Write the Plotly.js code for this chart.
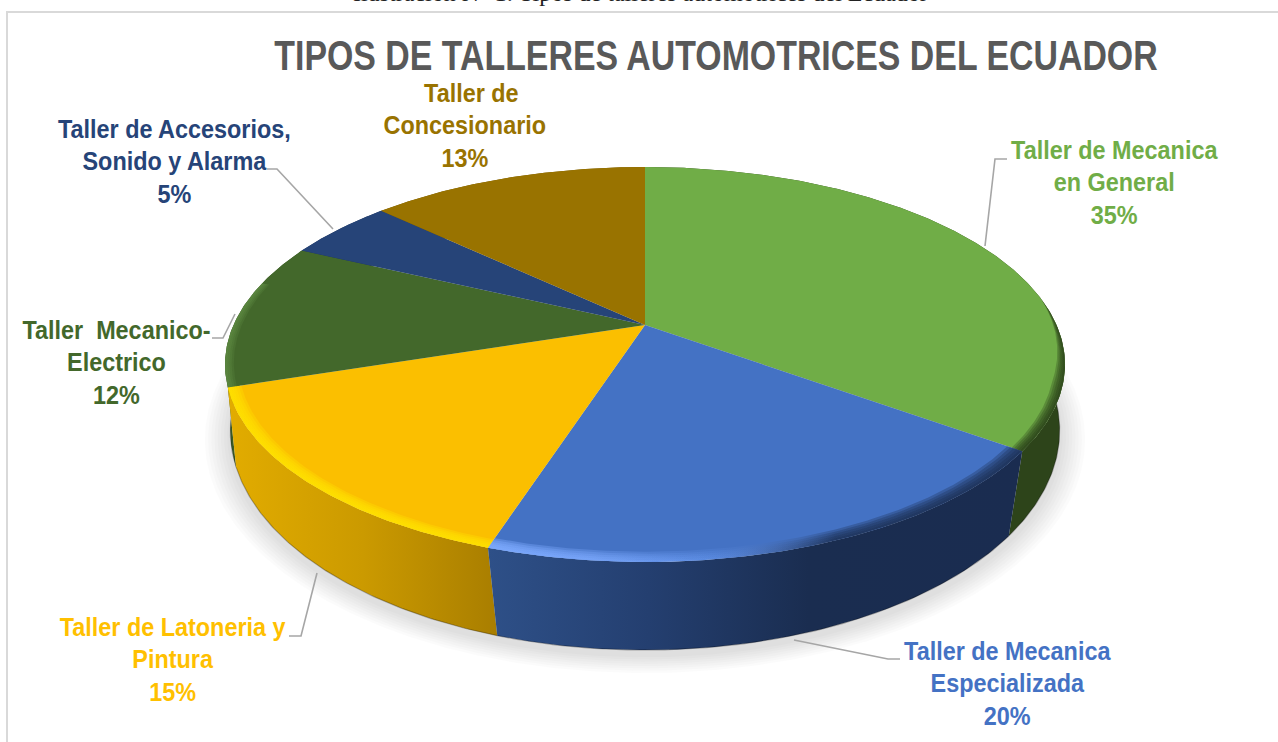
<!DOCTYPE html>
<html><head><meta charset="utf-8">
<script src="https://cdn.plot.ly/plotly-3.0.1.min.js"></script>
<style>html,body{margin:0;padding:0;background:#fff;overflow:hidden}#c{width:1278px;height:742px}</style>
</head><body><div id="c"></div>
<script>
// ---- data ----
const categories = ['Taller de Mecanica en General','Taller de Mecanica Especializada','Taller de Latoneria y Pintura','Taller Mecanico-Electrico','Taller de Accesorios, Sonido y Alarma','Taller de Concesionario'];
const values = [35,20,15,12,5,13];
const labelLines = [
  'Taller de Mecanica<br>en General<br>35%',
  'Taller de Mecanica<br>Especializada<br>20%',
  'Taller de Latoneria y<br>Pintura<br>15%',
  'Taller  Mecanico-<br>Electrico<br>12%',
  'Taller de Accesorios,<br>Sonido y Alarma<br>5%',
  '&nbsp;&nbsp;Taller de<br>Concesionario<br>13%'
];
const faceColors = ['#70AD47','#4472C4','#FBBF00','#43682B','#264478','#997300'];
const labelColors = ['#70AD47','#4472C4','#FFC000','#43682B','#264478','#997300'];
const wallScales = [
  [[0,'#2D441A'],[1,'#2D441A']],
  [[0,'#2E5088'],[0.3,'#243F70'],[0.6,'#1A2D50'],[1,'#1A2C50']],
  [[0,'#E2AC00'],[0.5,'#CB9A00'],[1,'#A97E00']],
  [[0,'#3A5A26'],[1,'#3A5A26']],
  [[0,'#1C3359'],[1,'#1C3359']],
  [[0,'#735600'],[1,'#735600']]
];
const labelAnchors = [[1115,182],[1008,683],[172,659],[116,362],[174,161],[465,125]];
const leaders = [
  [[985,246],[995,159],[1007,159]],
  [[794,640],[888,659],[900,659]],
  [[317,573],[301,636],[289,636]],
  [[235,314],[223,338],[212,338]],
  [[333,229],[277,169],[267,169]],
];
const titleText = 'TIPOS DE TALLERES AUTOMOTRICES DEL ECUADOR';
const captionText = 'Ilustración N° 1: Tipos de talleres automotrices del Ecuador';

// ---- projection of the tilted disc ----
const CX=645, CY=325, AX=411.5, BY=189.6, K=0.2;
const CY2=397.6, AX2=410, BY2=214.6, K2=0.15;
function rimTop(r,deg){ const a=deg*Math.PI/180, u=r*Math.sin(a), v=-r*Math.cos(a), w=1-K*v; return [CX+AX*u/w, CY+BY*v/w]; }
function rimBottom(r,deg){ const a=deg*Math.PI/180, u=r*Math.sin(a), v=-r*Math.cos(a), w=1-K2*v; return [CX+AX2*u/w, CY2+BY2*v/w]; }
function sweep(a,b){ const out=[], n=Math.max(2,Math.ceil(Math.abs(b-a)/0.5)); for(let i=0;i<=n;i++) out.push(a+(b-a)*i/n); return out; }
function poly(pts,extra){ pts=pts.concat([pts[0]]);
  return Object.assign({type:'scatter',mode:'lines',x:pts.map(p=>p[0]),y:pts.map(p=>p[1]),fill:'toself',line:{width:0},hoverinfo:'skip',showlegend:false},extra); }
// soft bevel: stacked translucent strips from an inner radius out to the rim, tapering in from the start angle
function softBand(a,b,inner,layers,taper,scale){
  for(let i=0;i<layers;i++){
    const depth=(1-inner)*(layers-i)/layers;
    const width=t=>depth*Math.min(1,taper?(t-a)/taper:1);
    const pts=sweep(a,b).map(t=>rimTop(1,t)).concat(sweep(b,a).map(t=>rimTop(1-width(t),t)));
    traces.push(poly(pts,{fillcolor:'rgba(0,0,0,0)',fillgradient:{type:'horizontal',colorscale:scale}}));
  }
}

// slice boundaries from the values
const total=values.reduce((s,v)=>s+v,0); const starts=[]; let run=0;
values.forEach(v=>{starts.push(run/total*360); run+=v;});
const ends=values.map((v,i)=>starts[i]+v/total*360);

const traces=[];
// soft shadow beneath the disc
for(let i=8;i>=1;i--){
  const grow=1+i*0.0075;
  const pts=sweep(0,360).map(t=>{const p=rimBottom(grow,t);return [p[0],p[1]+5];});
  traces.push(poly(pts,{fillcolor:'rgba(0,0,0,0.017)'}));
}
// side walls, back to front
[5,4,3,0,2,1].forEach(i=>{
  const pts=sweep(starts[i],ends[i]).map(t=>rimTop(1,t)).concat(sweep(ends[i],starts[i]).map(t=>rimBottom(1,t)));
  traces.push(poly(pts,{fillgradient:{type:'horizontal',colorscale:wallScales[i]},fillcolor:'rgba(0,0,0,0)'}));
  const edge=sweep(starts[i],ends[i]).map(t=>rimBottom(1,t));
  traces.push({type:'scatter',mode:'lines',x:edge.map(p=>p[0]),y:edge.map(p=>p[1]),line:{width:1.2,color:'rgba(0,0,0,0.28)'},hoverinfo:'skip',showlegend:false});
});
// top faces
values.forEach((v,i)=>{
  const pts=[[CX,CY]].concat(sweep(starts[i],ends[i]).map(t=>rimTop(1,t)));
  traces.push(poly(pts,{fillcolor:faceColors[i],name:categories[i],text:v+'%',hoverinfo:'name+text'}));
});
// bevel along the near rim
softBand(82,ends[0],0.975,5,25,[[0,'rgba(35,55,20,0.28)'],[1,'rgba(35,55,20,0.28)']]);
softBand(starts[1],ends[1],0.965,5,0,[[0,'rgba(125,170,255,0.42)'],[0.2,'rgba(125,170,255,0.30)'],[0.42,'rgba(110,160,250,0.12)'],[0.65,'rgba(26,45,80,0.30)'],[1,'rgba(26,45,80,0.32)']]);
softBand(starts[2],ends[2],0.97,5,0,[[0,'rgba(255,226,0,0.34)'],[1,'rgba(255,226,0,0.34)']]);
softBand(ends[2],ends[3]-12,0.98,4,0,[[0,'rgba(110,160,80,0.16)'],[1,'rgba(110,160,80,0.16)']]);

const FONT='"Liberation Sans",Arial,sans-serif';
const annotations=labelLines.map((t,i)=>({xref:'x',yref:'y',x:labelAnchors[i][0],y:labelAnchors[i][1],text:t,showarrow:false,xanchor:'center',yanchor:'middle',align:'center',
  font:{family:FONT,size:25,color:labelColors[i],weight:700}}));
annotations.push({xref:'paper',yref:'paper',x:640/1278,y:1+7.5/742,text:captionText,showarrow:false,xanchor:'center',yanchor:'middle',font:{family:'"Liberation Serif",serif',size:24,color:'#222'}});

const shapes=leaders.map(l=>({type:'path',xref:'x',yref:'y',path:'M'+l.map(p=>p.join(' ')).join(' L'),line:{color:'#A6A6A6',width:1.6}}));
shapes.push({type:'line',xref:'x',yref:'y',x0:7,x1:7,y0:12,y1:742,line:{color:'#D9D9D9',width:2}});
shapes.push({type:'line',xref:'x',yref:'y',x0:6,x1:1278,y0:12,y1:12,line:{color:'#D9D9D9',width:2}});

// condense the sans text horizontally about its own centre, as in the reference
function condense(el,s){
  const b=el.getBBox(), c=b.x+b.width/2, old=el.getAttribute('transform')||'';
  el.setAttribute('transform','translate('+c+',0) scale('+s+',1) translate('+(-c)+',0) '+old);
}
Plotly.newPlot('c',traces,{
  width:1278,height:742,margin:{l:0,r:0,t:0,b:0},paper_bgcolor:'#fff',plot_bgcolor:'#fff',showlegend:false,
  title:{text:titleText,x:716/1278,xanchor:'center',y:0.926,yanchor:'middle',font:{family:FONT,size:43,color:'#595959',weight:700}},
  xaxis:{range:[0,1278],visible:false,fixedrange:true},
  yaxis:{range:[742,0],visible:false,fixedrange:true},
  annotations,shapes
},{displayModeBar:false}).then(gd=>{
  gd.querySelectorAll('.g-gtitle text').forEach(t=>condense(t,0.788));
  gd.querySelectorAll('.annotation').forEach((a,i)=>{ if(i<labelLines.length) a.querySelectorAll('text').forEach(t=>condense(t,0.936)); });
});
</script></body></html>
